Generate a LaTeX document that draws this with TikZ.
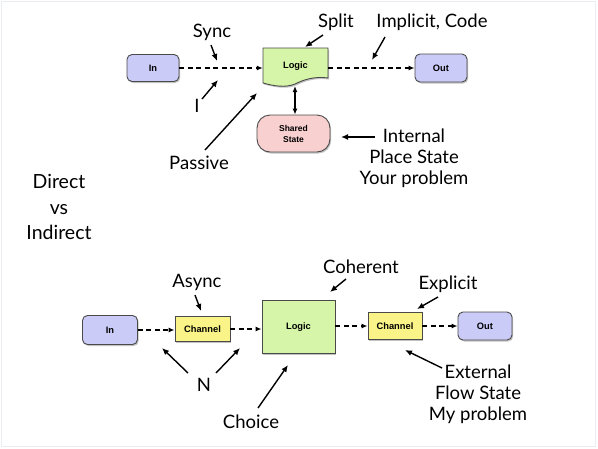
\documentclass[tikz,border=0pt]{standalone}
\usepackage{fontspec}
\setmainfont{Lato}
\newfontfamily\boxfont{Liberation Sans}
\usetikzlibrary{arrows.meta,shadows}
\definecolor{lav}{HTML}{CBCBF8}
\definecolor{lgreen}{HTML}{D6F5A8}
\definecolor{lpink}{HTML}{F9D0D0}
\definecolor{lyellow}{HTML}{FAF488}
\definecolor{bord}{HTML}{4A4A4A}
\definecolor{frame}{HTML}{EAEEF3}
\begin{document}
\begin{tikzpicture}[x=1pt,y=-1pt,
  boxstyle/.style={draw=bord, line width=0.9pt, font=\boxfont\bfseries\fontsize{9.3}{11}\selectfont, inner sep=0pt,
     drop shadow={shadow xshift=1.2pt, shadow yshift=-1.5pt, opacity=0.4, fill=black!60}},
  termbox/.style={boxstyle, fill=lav, rounded corners=5pt},
  chanbox/.style={boxstyle, fill=lyellow},
  lbl/.style={font=\fontsize{18.5}{21}\selectfont, inner sep=0pt, align=center},
  flow/.style={dashed, dash pattern=on 5pt off 3.5pt, line width=1.25pt, -{Latex[length=6pt,width=5pt]}},
  pointer/.style={line width=1.4pt, -{Latex[length=7pt,width=6pt]}},
]
\useasboundingbox (0,0) rectangle (598,448);
\draw[frame, line width=0.8pt] (1,1) rectangle (595,446);

% ---------- top diagram ----------
\node[termbox, minimum width=52pt, minimum height=27pt] (in1) at (153,68) {In};
\node[termbox, minimum width=52pt, minimum height=28pt] (out1) at (441,68) {Out};
\path[draw=bord, line width=0.9pt, fill=lgreen,
      drop shadow={shadow xshift=1.2pt, shadow yshift=-1.5pt, opacity=0.4, fill=black!60}]
  (263,48) -- (328,48) -- (328,78)
  .. controls (314,76) and (303,80) .. (295,84)
  .. controls (285,88) and (274,86) .. (263,83) -- cycle;
\node[font=\boxfont\bfseries\fontsize{9.3}{11}\selectfont, minimum width=65pt, minimum height=36pt, inner sep=0pt] (logic1) at (295.5,66) {Logic};
\node[boxstyle, fill=lpink, rounded corners=13pt, minimum width=73pt, minimum height=37pt, align=center,
      font=\boxfont\bfseries\fontsize{8.5}{11}\selectfont] (shared) at (293.5,133.5) {Shared\\State};

\draw[flow] (in1.east) -- (in1.east -| logic1.west);
\draw[flow] (logic1.east |- out1.west) -- (out1.west);
\coordinate (lb) at (295,86);
\draw[line width=1.2pt, {Latex[length=6pt,width=5pt]}-{Latex[length=6pt,width=5pt]}] (lb) -- (lb |- shared.north);

\node[lbl] (sync) at (212,32) {Sync};
\node[lbl] (ione) at (197,106) {I};
\node[lbl] (passive) at (199,163) {Passive};
\node[lbl] (split) at (336,22) {Split};
\node[lbl] (impl) at (432,22) {Implicit, Code};
\node[lbl] (internal) at (414,158) {Internal\\Place State\\Your problem};

\coordinate (s1) at (211,45);  \coordinate (s2) at (217,61);
\coordinate (i1) at (202,99);  \coordinate (i2) at (218,80);
\coordinate (p1) at (205,150); \coordinate (p2) at (257,93);
\coordinate (sp1) at (323,35); \coordinate (sp2) at (305,47);
\coordinate (im1) at (385,37); \coordinate (im2) at (372,60);
\coordinate (in1a) at (375,137); \coordinate (in2a) at (341,137);
\draw[pointer] (s1) -- (s2);
\draw[pointer] (i1) -- (i2);
\draw[pointer] (p1) -- (p2);
\draw[pointer] (sp1) -- (sp2);
\draw[pointer] (im1) -- (im2);
\draw[pointer] (in1a) -- (in2a);

% ---------- middle text ----------
\node[lbl, font=\fontsize{19.5}{25.5}\selectfont] (dvi) at (59,207) {Direct\\vs\\Indirect};

% ---------- bottom diagram ----------
\node[termbox, minimum width=55pt, minimum height=29pt] (in2) at (110,330) {In};
\node[chanbox, minimum width=55pt, minimum height=25pt] (ch1) at (202.5,329) {Channel};
\node[boxstyle, fill=lgreen, minimum width=73pt, minimum height=53pt] (logic2) at (298.5,327) {Logic};
\node[chanbox, minimum width=54pt, minimum height=27pt] (ch2) at (395,326) {Channel};
\node[termbox, minimum width=54pt, minimum height=28pt] (out2) at (485,326) {Out};

\draw[flow] (in2.east) -- (in2.east -| ch1.west);
\draw[flow] (ch1.east) -- (ch1.east -| logic2.west);
\draw[flow] (logic2.east |- ch2.west) -- (ch2.west);
\draw[flow] (ch2.east) -- (ch2.east -| out2.west);

\node[lbl] (async) at (197,282) {Async};
\node[lbl] (coh) at (361,267) {Coherent};
\node[lbl] (expl) at (448,284) {Explicit};
\node[lbl] (nn) at (204,385) {N};
\node[lbl] (choice) at (251,422) {Choice};
\node[lbl] (ext) at (478,394) {External\\Flow State\\My problem};

\coordinate (a1) at (195,295);  \coordinate (a2) at (201,311);
\coordinate (c1) at (346,279);  \coordinate (c2) at (330,292);
\coordinate (e1) at (438,297);  \coordinate (e2) at (417,309);
\coordinate (n1) at (188,373);  \coordinate (n2) at (162,348);
\coordinate (n3) at (216,373);  \coordinate (n4) at (240,348);
\coordinate (ch1a) at (258,408); \coordinate (ch2a) at (288,365);
\coordinate (x1) at (442,368);  \coordinate (x2) at (405,350);
\draw[pointer] (a1) -- (a2);
\draw[pointer] (c1) -- (c2);
\draw[pointer] (e1) -- (e2);
\draw[pointer] (n1) -- (n2);
\draw[pointer] (n3) -- (n4);
\draw[pointer] (ch1a) -- (ch2a);
\draw[pointer] (x1) -- (x2);
\end{tikzpicture}
\end{document}
